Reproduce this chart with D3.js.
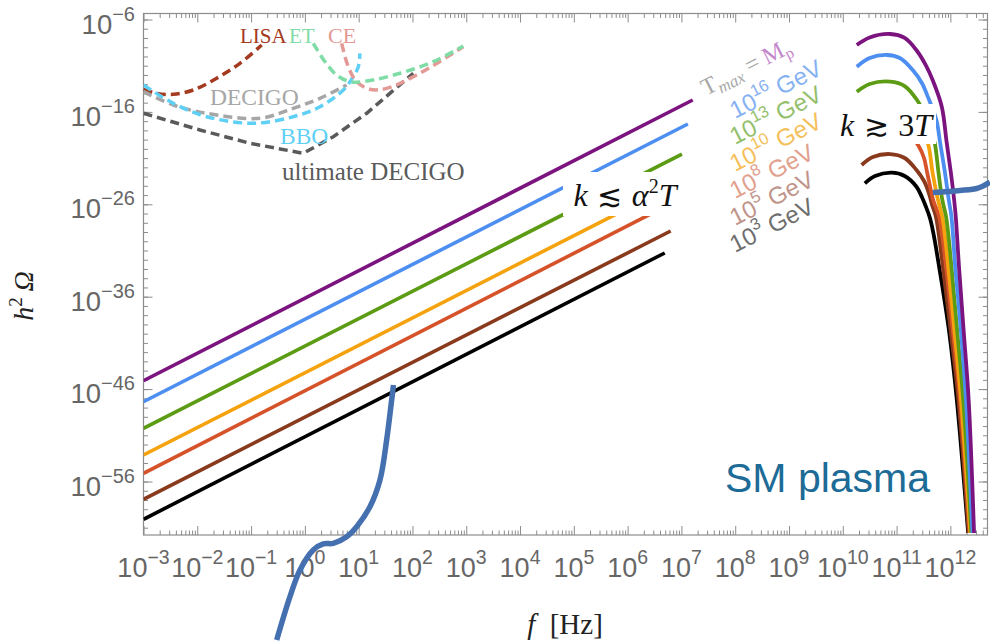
<!DOCTYPE html>
<html>
<head>
<meta charset="utf-8">
<script src="https://cdn.jsdelivr.net/npm/d3@7"></script>
<style>
  body { margin: 0; background: #fff; }
  svg { display: block; }
</style>
</head>
<body>
<div id="chart"></div>
<script>
// all values are log10: [log f (Hz), log h^2 Omega]
const xTickExps = [-3, -2, -1, 0, 1, 2, 3, 4, 5, 6, 7, 8, 9, 10, 11, 12];
const yTickExps = [-6, -16, -26, -36, -46, -56];

const tempLabels = ["M_p", "16", "13", "10", "8", "5", "3"];

// IR part (k <~ alpha^2 T): start and end of each straight piece
const irMp  = [[-3, -45.09], [7.21, -14.71]];
const ir16  = [[-3, -47.36], [7.12, -17.31]];
const ir13  = [[-3, -50.24], [7.01, -20.56]];
const ir10  = [[-3, -53.13], [6.92, -23.70]];
const ir8   = [[-3, -55.11], [6.85, -25.80]];
const ir5   = [[-3, -57.93], [6.80, -28.89]];
const ir3   = [[-3, -60.09], [6.69, -31.27]];

// UV part (k >~ 3T)
const uvMp = [[10.26,-8.76],[10.50,-7.95],[10.88,-7.57],[11.15,-8.00],[11.38,-9.41],[11.54,-10.92],[11.67,-12.55],[11.84,-15.44],[11.93,-19.26],[12.01,-22.61],[12.07,-25.53],[12.10,-27.34],[12.16,-32.75],[12.25,-39.93],[12.34,-47.18],[12.44,-61.57]];
const uv16 = [[10.26,-11.11],[10.50,-10.17],[10.82,-9.84],[11.06,-10.17],[11.30,-11.47],[11.47,-12.87],[11.58,-14.35],[11.74,-16.88],[11.81,-19.37],[11.90,-22.61],[11.97,-25.53],[12.02,-27.34],[12.09,-32.75],[12.20,-39.93],[12.29,-47.18],[12.41,-61.57]];
const uv13 = [[10.26,-13.81],[10.50,-12.98],[10.88,-12.73],[11.15,-13.20],[11.38,-14.71],[11.53,-16.34],[11.64,-17.96],[11.71,-19.37],[11.78,-22.61],[11.85,-25.53],[11.92,-27.34],[12.02,-32.75],[12.13,-39.93],[12.24,-47.18],[12.39,-61.57]];
const uv10 = [[10.26,-16.66],[10.50,-15.85],[10.88,-15.58],[11.15,-16.01],[11.34,-17.09],[11.47,-18.28],[11.58,-19.37],[11.67,-22.61],[11.77,-25.53],[11.85,-27.34],[11.96,-32.75],[12.08,-39.93],[12.20,-47.18],[12.37,-61.57]];
const uv8  = [[10.30,-18.72],[10.54,-17.85],[10.88,-17.60],[11.15,-18.07],[11.30,-18.82],[11.41,-19.69],[11.51,-20.99],[11.57,-22.61],[11.68,-25.53],[11.79,-27.34],[11.92,-32.75],[12.05,-39.93],[12.18,-47.18],[12.36,-61.57]];
const uv5  = [[10.35,-21.75],[10.56,-20.88],[10.88,-20.56],[11.15,-20.99],[11.37,-22.29],[11.51,-23.48],[11.60,-24.78],[11.66,-26.08],[11.73,-27.34],[11.86,-32.75],[12.01,-39.93],[12.15,-47.18],[12.34,-61.57]];
const uv3  = [[10.41,-23.73],[10.60,-22.94],[10.91,-22.58],[11.15,-22.94],[11.37,-24.10],[11.47,-25.21],[11.54,-26.18],[11.62,-27.48],[11.69,-29.32],[11.79,-32.75],[11.89,-36.36],[11.98,-39.93],[12.12,-47.18],[12.33,-61.57]];

// detector sensitivity curves
const lisa = [[-3.0,-13.55],[-2.755,-13.99],[-2.446,-14.10],[-2.074,-13.63],[-1.64,-12.36],[-1.206,-10.74],[-0.803,-8.76]];
const et = [[0.156,-8.58],[0.374,-10.57],[0.591,-12.01],[0.838,-12.73],[1.149,-12.66],[1.768,-11.82],[2.387,-10.57],[2.944,-8.87]];
const ce = [[0.684,-8.58],[0.807,-11.11],[0.963,-12.73],[1.210,-13.55],[1.520,-13.45],[2.078,-12.01],[2.944,-8.94]];
const decigo = [[-3.0,-13.81],[-2.446,-15.25],[-1.825,-16.15],[-0.835,-16.69],[-0.216,-15.61],[0.281,-14.53],[0.777,-13.09]];
const bbo = [[-3.0,-13.09],[-2.446,-15.07],[-1.825,-16.52],[-0.959,-17.23],[-0.216,-16.52],[0.281,-15.44],[0.714,-13.63],[0.900,-12.19],[0.993,-11.11],[1.024,-9.66]];
const ultDecigo = [[-3.0,-16.15],[-1.950,-17.96],[-1.020,-19.40],[-0.030,-20.48],[0.528,-18.68],[1.149,-16.15],[2.015,-11.82]];

// hand drawn blue strokes on top of the figure
const strokeLeft = [[1.647,-45.56],[1.613,-47.19],[1.520,-51.51],[1.396,-55.84],[1.210,-58.73],[0.963,-60.89],[0.777,-61.97],[0.528,-62.69],[0.342,-62.76],[0.156,-63.41],[-0.091,-65.58],[-0.277,-68.47],[-0.524,-73.15]];
const strokeRight = [[11.675,-24.72],[12.177,-24.51],[12.512,-24.24],[12.735,-23.59]];

const series = [
  { ir: irMp, uv: uvMp, color: "#7c1480", label: "#c487cb" },
  { ir: ir16, uv: uv16, color: "#4d8ff0", label: "#86b2f2" },
  { ir: ir13, uv: uv13, color: "#5c9c14", label: "#94bf6c" },
  { ir: ir10, uv: uv10, color: "#f5a20f", label: "#f5c05c" },
  { ir: ir8,  uv: uv8,  color: "#d6532a", label: "#e2a08e" },
  { ir: ir5,  uv: uv5,  color: "#8a3a1c", label: "#c0948a" },
  { ir: ir3,  uv: uv3,  color: "#000000", label: "#6e6e6e" }
];

const detectors = [
  { pts: lisa, color: "#a43a20", curve: d3.curveCatmullRom },
  { pts: decigo, color: "#a6a6a6", curve: d3.curveCatmullRom },
  { pts: bbo, color: "#5fd0f5", curve: d3.curveCatmullRom },
  { pts: ultDecigo, color: "#5a5a5a", curve: d3.curveLinear },
  { pts: ce, color: "#e39995", curve: d3.curveCatmullRom },
  { pts: et, color: "#7fdca6", curve: d3.curveCatmullRom }
];

const W = 990, H = 642;
const pL = 143.5, pR = 987.5, pT = 13.5, pB = 535;

const svg = d3.select("#chart").append("svg")
  .attr("width", W).attr("height", H);

const x = d3.scaleLog().domain([1e-3, Math.pow(10, 12.69)]).range([pL, pR]);
const y = d3.scaleLog().domain([Math.pow(10, -61.79), Math.pow(10, -5.35)]).range([pB, pT]);

const line = d3.line()
  .x(d => x(Math.pow(10, d[0])))
  .y(d => y(Math.pow(10, d[1])));

svg.append("clipPath").attr("id", "plot")
  .append("rect").attr("x", pL).attr("y", pT)
  .attr("width", pR - pL).attr("height", pB - pT);

const axisColor = "#8c8c8c";
const labelColor = "#666";

// minor tick values
const xMinor = [];
xTickExps.forEach(e => { for (let m = 2; m <= 9; m++) xMinor.push(m * Math.pow(10, e)); });
const xMinorIn = xMinor.filter(v => v < x.domain()[1]);
const yMinor = d3.range(-61, -5).map(e => Math.pow(10, e));
const xMajor = xTickExps.map(e => Math.pow(10, e));
const yMajor = yTickExps.map(e => Math.pow(10, e));

function ticks(g) {
  g.selectAll(".domain").remove();
  g.selectAll("line").attr("stroke", axisColor);
  g.selectAll("text").remove();
}
// bottom + top
svg.append("g").attr("transform", `translate(0,${pB})`)
  .call(d3.axisBottom(x).tickValues(xMajor).tickSize(-9)).call(ticks);
svg.append("g").attr("transform", `translate(0,${pB})`)
  .call(d3.axisBottom(x).tickValues(xMinorIn).tickSize(-4.5)).call(ticks);
svg.append("g").attr("transform", `translate(0,${pT})`)
  .call(d3.axisTop(x).tickValues(xMajor).tickSize(-9)).call(ticks);
svg.append("g").attr("transform", `translate(0,${pT})`)
  .call(d3.axisTop(x).tickValues(xMinorIn).tickSize(-4.5)).call(ticks);
// left + right
svg.append("g").attr("transform", `translate(${pL},0)`)
  .call(d3.axisLeft(y).tickValues(yMajor).tickSize(-9)).call(ticks);
svg.append("g").attr("transform", `translate(${pL},0)`)
  .call(d3.axisLeft(y).tickValues(yMinor).tickSize(-4.5)).call(ticks);
svg.append("g").attr("transform", `translate(${pR},0)`)
  .call(d3.axisRight(y).tickValues(yMajor).tickSize(-9)).call(ticks);
svg.append("g").attr("transform", `translate(${pR},0)`)
  .call(d3.axisRight(y).tickValues(yMinor).tickSize(-4.5)).call(ticks);

svg.append("rect")
  .attr("x", pL).attr("y", pT)
  .attr("width", pR - pL).attr("height", pB - pT)
  .attr("fill", "none").attr("stroke", axisColor).attr("stroke-width", 1.2);

// tick labels, 10^n
const sup = e => (e < 0 ? "\u2212" + (-e) : "" + e);
const xl = svg.append("g").attr("font-family", "Liberation Sans, Arial, sans-serif").attr("fill", labelColor);
xTickExps.forEach(e => {
  const t = xl.append("text")
    .attr("x", x(Math.pow(10, e))).attr("y", 577)
    .attr("text-anchor", "middle");
  t.append("tspan").attr("font-size", 27).text("10");
  t.append("tspan").attr("font-size", 19.5).attr("dy", -13).text(sup(e));
});
const yl = svg.append("g").attr("font-family", "Liberation Sans, Arial, sans-serif").attr("fill", labelColor);
yTickExps.forEach(e => {
  const t = yl.append("text")
    .attr("x", 135).attr("y", y(Math.pow(10, e)) + 14)
    .attr("text-anchor", "end");
  t.append("tspan").attr("font-size", 27.5).text("10");
  t.append("tspan").attr("font-size", 20).attr("dy", -13).text(sup(e));
});

// axis titles
const serif = "Liberation Serif, Times New Roman, serif";
const fx = svg.append("text").attr("x", 565).attr("y", 634)
  .attr("text-anchor", "middle")
  .attr("font-family", serif)
  .attr("font-size", 29).attr("fill", "#222");
fx.append("tspan").attr("font-style", "italic").text("f");
fx.append("tspan").text("\u2002[Hz]");

const fy = svg.append("text")
  .attr("transform", "translate(33,296) rotate(-90)")
  .attr("text-anchor", "middle")
  .attr("font-family", serif)
  .attr("font-size", 28).attr("fill", "#222");
fy.append("tspan").attr("font-style", "italic").text("h");
fy.append("tspan").attr("font-size", 19).attr("dy", -11).text("2");
fy.append("tspan").attr("dy", 11).attr("font-style", "italic").text("\u2009\u03A9");

const plot = svg.append("g").attr("clip-path", "url(#plot)");

// detectors
detectors.forEach(d => {
  plot.append("path")
    .datum(d.pts)
    .attr("fill", "none")
    .attr("stroke", d.color)
    .attr("stroke-width", 3.5)
    .attr("stroke-dasharray", "9,5")
    .attr("d", line.curve(d.curve));
});

// spectra
series.forEach(s => {
  plot.append("path").datum(s.ir)
    .attr("fill", "none").attr("stroke", s.color).attr("stroke-width", 3.6)
    .attr("d", line.curve(d3.curveLinear));
});
series.slice().reverse().forEach(s => {
  plot.append("path").datum(s.uv)
    .attr("fill", "none").attr("stroke", s.color).attr("stroke-width", 3.8)
    .attr("d", line.curve(d3.curveCatmullRom.alpha(0.5)));
});

// detector names
const names = [
  { t: "LISA", x: 240, y: 43, c: "#a43a20", s: 21 },
  { t: "ET", x: 289, y: 43, c: "#7fdca6", s: 21 },
  { t: "CE", x: 328, y: 43, c: "#e39995", s: 22 },
  { t: "DECIGO", x: 210, y: 105, c: "#a6a6a6", s: 23.5 },
  { t: "BBO", x: 280, y: 144, c: "#5fd0f5", s: 23.5 },
  { t: "ultimate DECIGO", x: 282, y: 180, c: "#5a5a5a", s: 25 }
];
names.forEach(n => {
  svg.append("text").attr("x", n.x).attr("y", n.y)
    .attr("font-family", serif).attr("font-size", n.s)
    .attr("fill", n.c).text(n.t);
});

// rotated temperature labels
const labelPos = [[706, 96], [735, 119], [735, 145], [735, 172], [735, 199], [735, 226], [735, 253]];
tempLabels.forEach((lab, i) => {
  const t = svg.append("text")
    .attr("transform", `translate(${labelPos[i][0]},${labelPos[i][1]}) rotate(-27)`)
    .attr("font-size", 24);
  if (i === 0) {
    t.attr("font-family", serif);
    t.append("tspan").attr("fill", "#a8a8a8").text("T");
    t.append("tspan").attr("fill", "#a8a8a8").attr("font-style", "italic")
      .attr("font-size", 17).attr("dy", 5).text("max");
    t.append("tspan").attr("fill", "#a8a8a8").attr("dy", -5).text(" = ");
    t.append("tspan").attr("fill", series[0].label).text("M");
    t.append("tspan").attr("fill", series[0].label).attr("font-size", 16).attr("dy", 5).text("p");
  } else {
    t.attr("font-family", "Liberation Sans, Arial, sans-serif").attr("fill", series[i].label);
    t.append("tspan").text("10");
    t.append("tspan").attr("font-size", 16.5).attr("dy", -11).text(lab);
    t.append("tspan").attr("dy", 11).text(" GeV");
  }
});

// regime boxes
function regime(x0, y0, w, h, cx, by, parts) {
  svg.append("rect").attr("x", x0).attr("y", y0).attr("width", w).attr("height", h).attr("fill", "#fff");
  const t = svg.append("text").attr("x", cx).attr("y", by)
    .attr("text-anchor", "middle")
    .attr("font-family", "Liberation Serif, DejaVu Serif, serif")
    .attr("font-size", 32).attr("fill", "#111");
  parts.forEach(p => {
    const ts = t.append("tspan").text(p.t);
    if (p.i) ts.attr("font-style", "italic");
    if (p.s) ts.attr("font-size", p.s);
    if (p.dy) ts.attr("dy", p.dy);
    if (p.f) ts.attr("font-family", p.f);
  });
}
regime(563, 172, 129, 44, 625, 206, [
  { t: "k", i: true }, { t: " \u2272 ", f: "DejaVu Serif", s: 30 }, { t: "\u03B1", i: true },
  { t: "2", s: 20, dy: -13 }, { t: "T", i: true, dy: 13 }
]);
regime(837, 104, 99, 40, 886, 136, [
  { t: "k", i: true }, { t: " \u2273 ", f: "DejaVu Serif", s: 30 }, { t: "3" }, { t: "T", i: true }
]);

svg.append("text").attr("x", 725).attr("y", 492)
  .attr("font-family", "Liberation Sans, Arial, sans-serif")
  .attr("font-size", 41).attr("fill", "#1d6b97").text("SM plasma");

// blue hand strokes
[strokeLeft, strokeRight].forEach(p => {
  svg.append("path").datum(p)
    .attr("fill", "none").attr("stroke", "#4570b0").attr("stroke-width", 5.5)
    .attr("stroke-linecap", "butt")
    .attr("d", line.curve(d3.curveCatmullRom.alpha(0.5)));
});
</script>
</body>
</html>
